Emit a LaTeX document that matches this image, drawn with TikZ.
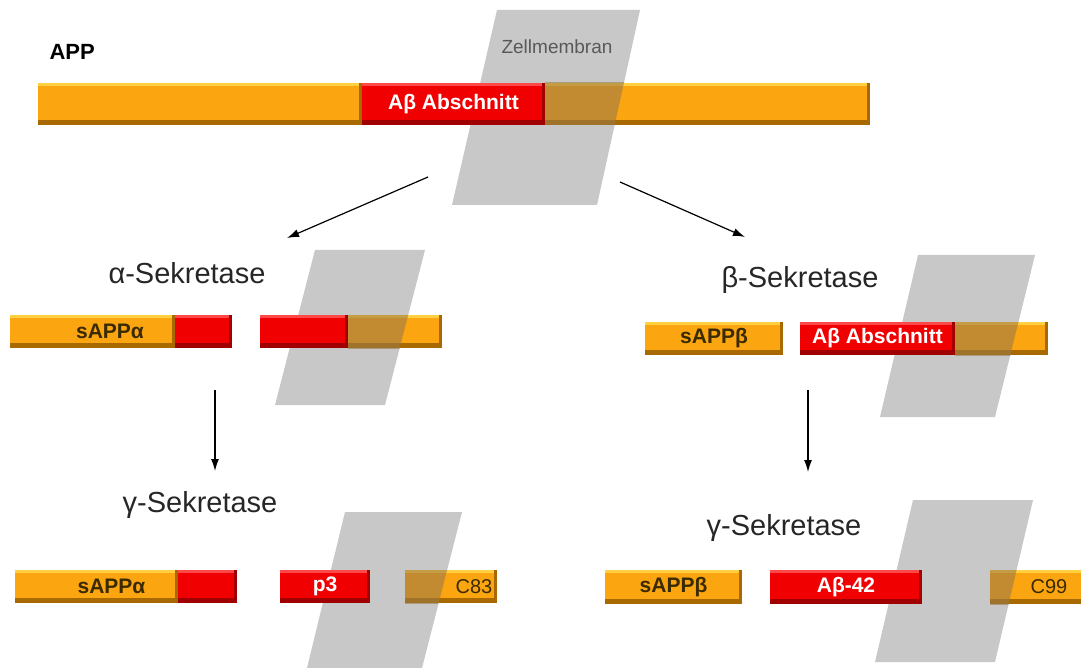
\documentclass[tikz,border=0pt]{standalone}
\usepackage{fontspec}
\setmainfont{Liberation Sans}
\usetikzlibrary{arrows.meta}
\definecolor{org}{HTML}{FBA510}
\definecolor{orgdark}{HTML}{A86A00}
\definecolor{orglight}{HTML}{FFD040}
\definecolor{rd}{HTML}{F00000}
\definecolor{rddark}{HTML}{A00000}
\definecolor{rdlight}{HTML}{FF4848}
\definecolor{mem}{HTML}{C8C8C8}
\definecolor{brn}{HTML}{9C7A48}
\definecolor{txtdark}{HTML}{3A2A00}
\tikzset{
  segbase/.style={rectangle, inner sep=0pt, outer sep=0pt, anchor=north west,
    font=\bfseries\fontsize{21}{21}\selectfont},
  oseg/.style={segbase, fill=org, text=txtdark,
    path picture={
      \fill[orgdark] (path picture bounding box.south west) rectangle ([yshift=5pt]path picture bounding box.south east);
      \fill[orglight] (path picture bounding box.north west) rectangle ([yshift=-3pt]path picture bounding box.north east);
      \fill[orgdark] (path picture bounding box.north east) rectangle ([xshift=-3pt]path picture bounding box.south east);
    }},
  rseg/.style={segbase, fill=rd, text=white,
    path picture={
      \fill[rddark] (path picture bounding box.south west) rectangle ([yshift=5pt]path picture bounding box.south east);
      \fill[rdlight] (path picture bounding box.north west) rectangle ([yshift=-3pt]path picture bounding box.north east);
      \fill[rddark] (path picture bounding box.north east) rectangle ([xshift=-3pt]path picture bounding box.south east);
    }},
  memb/.style={fill=mem},
  tint/.style={fill=brn, fill opacity=0.6},
  enz/.style={font=\fontsize{29}{29}\selectfont, text=black!85},
  arr/.style={-{Latex[length=12pt,width=8pt]}, line width=1.2pt},
  plain/.style={font=\fontsize{20}{20}\selectfont, text=txtdark}
}
\begin{document}
\begin{tikzpicture}[x=1pt,y=-1pt]
\useasboundingbox (0,0) rectangle (1081,668);
\fill[white] (0,0) rectangle (1081,668);
% membranes
\fill[memb] (497,10) -- (640,10) -- (597,205) -- (452,205) -- cycle;
\fill[memb] (315,250) -- (425,250) -- (385,405) -- (275,405) -- cycle;
\fill[memb] (918,255) -- (1035,255) -- (995,417) -- (880,417) -- cycle;
\fill[memb] (345,512) -- (462,512) -- (422,668) -- (307,668) -- cycle;
\fill[memb] (913,500) -- (1033,500) -- (995,662) -- (875,662) -- cycle;

% labels
\node[anchor=west, font=\bfseries\fontsize{22}{22}\selectfont] (app) at (46,52) {APP};
\node[font=\fontsize{19}{19}\selectfont, text=black!65] (zm) at (557,47) {Zellmembran};
\node[enz] (alpha) at (187,273) {α-Sekretase};
\node[enz] (beta) at (800,280) {β-Sekretase};
\node[enz] (gam1) at (200,505) {γ-Sekretase};
\node[enz] (gam2) at (784,528) {γ-Sekretase};

% top bar
\node[oseg, minimum width=324pt, minimum height=42pt] (t1) at (38,83) {};
\node[rseg, minimum width=183pt, minimum height=42pt] (t2) at (362,83) {\raisebox{3pt}{Aβ Abschnitt}};
\node[oseg, minimum width=325pt, minimum height=42pt] (t3) at (545,83) {};
\begin{scope}
\clip (545,83) rectangle (870,125);
\fill[tint] (497,10) -- (640,10) -- (597,205) -- (452,205) -- cycle;
\end{scope}

% middle left
\node[oseg, minimum width=165pt, minimum height=33pt] (a1) at (10,315) {\hspace*{35pt}sAPPα};
\node[rseg, minimum width=57pt, minimum height=33pt] (a2) at (175,315) {};
\node[rseg, minimum width=88pt, minimum height=33pt] (a3) at (260,315) {};
\node[oseg, minimum width=94pt, minimum height=33pt] (a4) at (348,315) {};
\begin{scope}
\clip (348,315) rectangle (442,348);
\fill[tint] (315,250) -- (425,250) -- (385,405) -- (275,405) -- cycle;
\end{scope}

% middle right
\node[oseg, minimum width=138pt, minimum height=33pt] (b1) at (645,322) {sAPPβ};
\node[rseg, minimum width=155pt, minimum height=33pt] (b2) at (800,322) {\raisebox{5pt}{Aβ Abschnitt}};
\node[oseg, minimum width=93pt, minimum height=33pt] (b3) at (955,322) {};
\begin{scope}
\clip (955,322) rectangle (1048,355);
\fill[tint] (918,255) -- (1035,255) -- (995,417) -- (880,417) -- cycle;
\end{scope}

% bottom left
\node[oseg, minimum width=163pt, minimum height=33pt] (c1) at (15,570) {\hspace*{30pt}sAPPα};
\node[rseg, minimum width=59pt, minimum height=33pt] (c2) at (178,570) {};
\node[rseg, minimum width=90pt, minimum height=33pt] (c3) at (280,570) {p3};
\node[oseg, minimum width=92pt, minimum height=33pt] (c4) at (405,570) {};
\begin{scope}
\clip (405,570) rectangle (497,603);
\fill[tint] (345,512) -- (462,512) -- (422,668) -- (307,668) -- cycle;
\end{scope}
\node[plain] (c83) at (474,587) {C83};

% bottom right
\node[oseg, minimum width=137pt, minimum height=34pt] (d1) at (605,570) {sAPPβ};
\node[rseg, minimum width=152pt, minimum height=34pt] (d2) at (770,570) {Aβ-42};
\node[oseg, minimum width=96pt, minimum height=34pt] (d3) at (990,570) {};
\begin{scope}
\clip (990,570) rectangle (1086,604);
\fill[tint] (913,500) -- (1033,500) -- (995,662) -- (875,662) -- cycle;
\end{scope}
\node[plain] (c99) at (1049,587) {C99};

% arrows
\coordinate (s1) at (428,177);
\coordinate (e1) at (287,238);
\coordinate (s2) at (620,182);
\coordinate (e2) at (745,237);
\coordinate (s3) at (215,390);
\coordinate (e3) at (215,471);
\coordinate (s4) at (808,390);
\coordinate (e4) at (808,472);
\draw[arr] (s1) -- (e1);
\draw[arr] (s2) -- (e2);
\draw[arr] (s3) -- (e3);
\draw[arr] (s4) -- (e4);
\end{tikzpicture}
\end{document}
